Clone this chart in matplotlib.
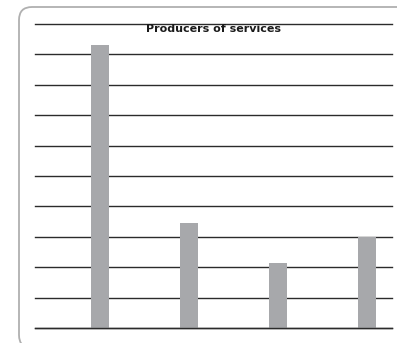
import matplotlib.pyplot as plt
from matplotlib.patches import FancyBboxPatch

# values (grid step = 1)
categories = ['A', 'B', 'C', 'D']
values = [9.3, 3.45, 2.15, 3.0]
title = 'Producers of services'

fig = plt.figure(figsize=(3.97, 3.43), dpi=100)
ax = fig.add_axes([35 / 397, 1 - 328 / 343, 357 / 397, 304 / 343])

x = list(range(len(categories)))
ax.bar(x, values, width=0.21, color='#a7a8ab', zorder=2)

ax.set_xlim(-0.73, 3.28)
ax.set_ylim(0, 10)
ax.set_yticks(range(0, 11))
ax.set_xticks([])
ax.tick_params(left=False, labelleft=False)
ax.yaxis.grid(True, color='#2b2b2b', linewidth=1.0)
for gl in ax.get_ygridlines():
    gl.set_clip_on(False)
ax.set_axisbelow(True)
ax.axhline(0, color='#2b2b2b', linewidth=1.0, zorder=3, clip_on=False)
for s in ax.spines.values():
    s.set_visible(False)

ax.text(0.5, 0.983, title, transform=ax.transAxes, ha='center', va='center',
        fontsize=8, fontweight='bold', color='#1a1a1a', zorder=4)

# rounded frame around the chart
frame = FancyBboxPatch((0.19, -0.05), 4.2, 3.36 + 0.05,
                       boxstyle='round,pad=0,rounding_size=0.13',
                       transform=fig.dpi_scale_trans, facecolor='none',
                       edgecolor='#b0b0b0', linewidth=1.3)
fig.patches.append(frame)

fig.savefig('out.png', dpi=100)
